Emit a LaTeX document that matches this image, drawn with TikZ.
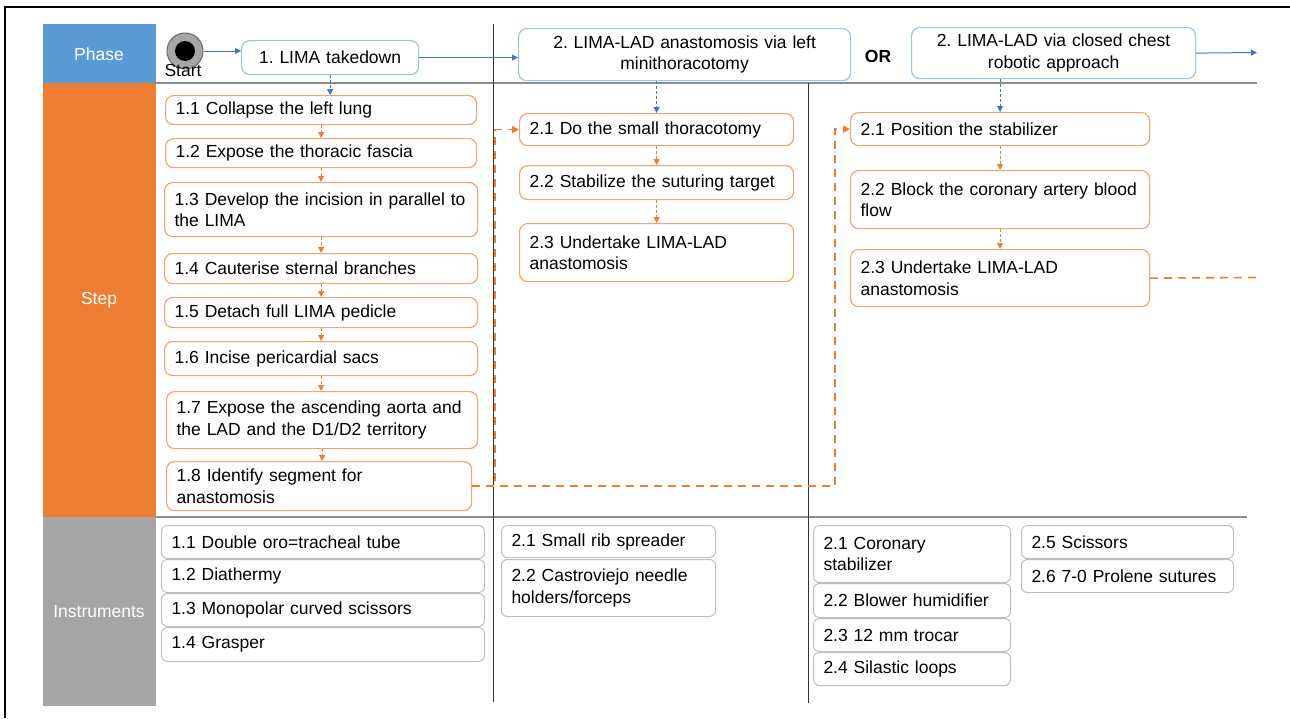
\documentclass[tikz,border=0pt]{standalone}
\usepackage{fontspec}
\setmainfont{Liberation Sans}
\usetikzlibrary{arrows.meta}

\begin{document}
\frenchspacing
\begin{tikzpicture}[x=1pt,y=-1pt,
 font=\fontsize{17.5}{21.5}\selectfont,
 phasebox/.style={draw=phaseline,rounded corners=8pt,line width=1.2pt,fill=white,
   inner xsep=10pt,inner ysep=2pt,align=center},
 stepbox/.style={draw=stepline,rounded corners=8pt,line width=1.2pt,fill=white,
   inner xsep=10pt,inner ysep=2pt,align=left},
 toolbox/.style={draw=toolline,rounded corners=6pt,line width=1pt,fill=white,
   inner xsep=10pt,inner ysep=2pt,align=left},
 lanehead/.style={text=white},
 sepline/.style={draw=gray!90,line width=1.6pt},
 laneline/.style={draw=black!80,line width=1pt},
 phaseflow/.style={draw=phasearrow,line width=1pt,-{Triangle[length=6pt,width=6pt]}},
 phasedrop/.style={phaseflow,dash pattern=on 3pt off 2pt},
 stepflow/.style={draw=steparrow,line width=1pt,dash pattern=on 3pt off 2pt,
   -{Triangle[length=6pt,width=6pt]}},
 linkflow/.style={draw=steparrow,line width=1.6pt,dash pattern=on 8pt off 6pt,
   -{Triangle[length=7pt,width=7pt]}},
 linkdash/.style={draw=steparrow,line width=1.6pt,dash pattern=on 8pt off 6pt}]

\definecolor{phasefill}{HTML}{5B9BD5} \definecolor{stepfill}{HTML}{ED7D31}
\definecolor{toolfill}{HTML}{A5A5A5}  \definecolor{phaseline}{HTML}{9DC3E6}
\definecolor{phasearrow}{HTML}{4472C4} \definecolor{stepline}{HTML}{F5A36C}
\definecolor{steparrow}{HTML}{ED7D31} \definecolor{toolline}{HTML}{BFBFBF}

\newcommand{\flowbox}[7]{% style, name, x, y, w, h, text
 \pgfmathsetmacro{\boxtw}{#5-20}
 \node[#1,anchor=north west,text width=\boxtw pt,minimum height=#6pt] (#2) at (#3,#4) {#7};
}

\useasboundingbox (0,0) rectangle (1290,718);
\draw[line width=2pt] (5,718) -- (5,7) -- (1290,7);

% lanes
\fill[phasefill] (43,24) rectangle (156,83);
\fill[stepfill] (43,83) rectangle (156,517);
\fill[toolfill] (43,517) rectangle (156,706);
\node[lanehead] (hphase) at (99,54) {Phase};
\node[lanehead] (hstep) at (99,300) {Step};
\node[lanehead] (htool) at (99,612) {Instruments};

\draw[sepline] (156,83) -- (1257,83);
\draw[sepline] (156,517) -- (1247,517);
\draw[laneline] (493,24) -- (493,702);
\draw[laneline] (808,83) -- (808,703);

% phases
\node[circle,fill=gray!70,draw=gray!80!black,line width=1pt,minimum size=36pt,inner sep=0pt] (start) at (185,51) {};
\node[circle,fill=black,minimum size=20pt,inner sep=0pt] (startdot) at (start) {};
\node (startlbl) at (183,70) {Start};
\flowbox{phasebox}{p1}{241}{40}{177}{34}{1. LIMA takedown}
\flowbox{phasebox}{p2}{518}{28}{332}{52}{2. LIMA-LAD anastomosis via left\\minithoracotomy}
\node[font=\fontsize{17.5}{21.5}\selectfont\bfseries] (orlbl) at (878,56) {OR};
\flowbox{phasebox}{p3}{911}{27}{284}{51}{2. LIMA-LAD via closed chest\\robotic approach}
\coordinate (phaseend) at (1257,52.5);

% steps
\flowbox{stepbox}{s11}{165}{95}{311}{29}{1.1 Collapse the left lung}
\flowbox{stepbox}{s12}{165}{138}{311}{29}{1.2 Expose the thoracic fascia}
\flowbox{stepbox}{s13}{164}{182}{313}{54}{1.3 Develop the incision in parallel to\\the LIMA}
\flowbox{stepbox}{s14}{164}{253}{313}{30}{1.4 Cauterise sternal branches}
\flowbox{stepbox}{s15}{164}{297}{313}{30}{1.5 Detach full LIMA pedicle}
\flowbox{stepbox}{s16}{164}{341}{313}{34}{1.6 Incise pericardial sacs}
\flowbox{stepbox}{s17}{166}{391}{311}{57}{1.7 Expose the ascending aorta and\\the LAD and the D1/D2 territory}
\flowbox{stepbox}{s18}{166}{461}{305}{49}{1.8 Identify segment for\\anastomosis}

\flowbox{stepbox}{a21}{519}{113}{274}{32}{2.1 Do the small thoracotomy}
\flowbox{stepbox}{a22}{519}{165}{274}{34}{2.2 Stabilize the suturing target}
\flowbox{stepbox}{a23}{519}{223}{274}{58}{2.3 Undertake LIMA-LAD\\anastomosis}

\flowbox{stepbox}{b21}{850}{112}{299}{33}{2.1 Position the stabilizer}
\flowbox{stepbox}{b22}{850}{170}{299}{58}{2.2 Block the coronary artery blood\\flow}
\flowbox{stepbox}{b23}{850}{249}{299}{57}{2.3 Undertake LIMA-LAD\\anastomosis}
\coordinate (stepend) at (1257,277.5);

% instruments
\flowbox{toolbox}{t11}{161}{525}{323}{33}{1.1 Double oro=tracheal tube}
\flowbox{toolbox}{t12}{161}{559}{323}{33}{1.2 Diathermy}
\flowbox{toolbox}{t13}{161}{593}{323}{33}{1.3 Monopolar curved scissors}
\flowbox{toolbox}{t14}{161}{627}{323}{34}{1.4 Grasper}

\flowbox{toolbox}{u21}{501}{525}{214}{32}{2.1 Small rib spreader}
\flowbox{toolbox}{u22}{501}{559}{214}{57}{2.2 Castroviejo needle\\holders/forceps}

\flowbox{toolbox}{v21}{813}{525}{197}{57}{2.1 Coronary\\stabilizer}
\flowbox{toolbox}{v22}{813}{583}{197}{34}{2.2 Blower humidifier}
\flowbox{toolbox}{v23}{813}{618}{197}{33}{2.3 12 mm trocar}
\flowbox{toolbox}{v24}{813}{652}{197}{33}{2.4 Silastic loops}
\flowbox{toolbox}{v25}{1021}{525}{212}{33}{2.5 Scissors}
\flowbox{toolbox}{v26}{1021}{559}{212}{33}{2.6 7-0 Prolene sutures}

% connectors
\draw[phaseflow] (start.east) -- (start.east -| p1.west);
\draw[phaseflow] (p1.east) -- (p1.east -| p2.west);
\draw[phaseflow] (p3.east) -- (phaseend);
\draw[phasedrop] (p1.south) -- (p1.south |- s11.north);
\draw[phasedrop] (a21.north |- p2.south) -- (a21.north);
\draw[phasedrop] (b21.north |- p3.south) -- (b21.north);

\foreach \a/\b in {s11/s12,s12/s13,s13/s14,s14/s15,s15/s16,s16/s17,s17/s18,
  a21/a22,a22/a23,b21/b22,b22/b23}
 \draw[stepflow] (\a.south) -- (\a.south |- \b.north);

\draw[linkflow] (s18.east) -| ([xshift=-24pt]a21.west) -- (a21.west);
\draw[linkflow] (s18.east) -| ([xshift=-15pt]b21.west) -- (b21.west);
\draw[linkdash] (b23.east) -- (stepend);

\end{tikzpicture}
\end{document}
